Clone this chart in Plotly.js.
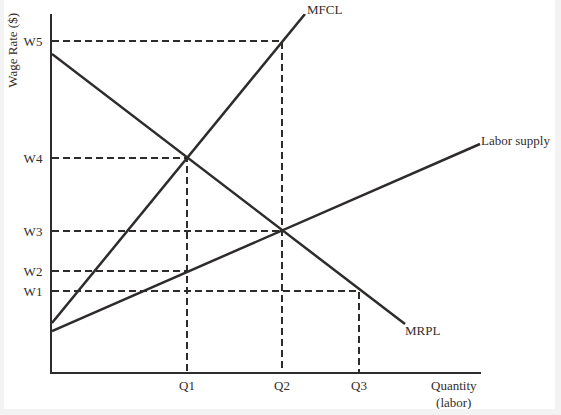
<!DOCTYPE html>
<html>
<head>
<meta charset="utf-8">
<script src="https://cdn.plot.ly/plotly-3.0.1.min.js"></script>
<style>
html,body{margin:0;padding:0;background:#f3f3f3;width:561px;height:415px;overflow:hidden;}
#chart{position:absolute;left:4px;top:0;width:551px;height:409px;background:#fff;}
</style>
</head>
<body>
<div id="chart"></div>
<script>
// Quantities and wage levels (arbitrary units)
const qLabels = ["Q1", "Q2", "Q3"];
const qValues = [13.5, 23.0, 30.7];
const wLabels = ["W1", "W2", "W3", "W4", "W5"];
const wValues = [8.1, 10.1, 14.1, 21.4, 33.1];

// Curves (endpoints)
const mrplX = [0, 35.3];
const mrplY = [31.8, 4.8];
const mfclX = [0, 25.3];
const mfclY = [4.9, 35.8];
const supplyX = [0, 42.8];
const supplyY = [4.1, 22.8];

const [Q1, Q2, Q3] = qValues;
const [W1, W2, W3, W4, W5] = wValues;

const ink = "#2e2b2b";
const font = {family: "Liberation Serif, Times New Roman, serif", size: 13, color: "#332d2d"};

const dashStyle = {color: ink, width: 2, dash: "7px,4px"};
const solid = {color: ink, width: 2.5};

const traces = [
  {x: [0, Q2, Q2], y: [W5, W5, 0], mode: "lines", line: dashStyle},
  {x: [0, Q1, Q1], y: [W4, W4, 0], mode: "lines", line: dashStyle},
  {x: [0, Q2], y: [W3, W3], mode: "lines", line: dashStyle},
  {x: [0, Q1], y: [W2, W2], mode: "lines", line: dashStyle},
  {x: [0, Q3, Q3], y: [W1, W1, 0], mode: "lines", line: dashStyle},
  {x: mrplX, y: mrplY, mode: "lines", line: solid},
  {x: mfclX, y: mfclY, mode: "lines", line: solid},
  {x: supplyX, y: supplyY, mode: "lines", line: solid}
].map(t => Object.assign({hoverinfo: "skip", showlegend: false, cliponaxis: false}, t));

const layout = {
  width: 551, height: 409,
  margin: {l: 48, r: 74, t: 14, b: 37},
  paper_bgcolor: "#fff", plot_bgcolor: "#fff",
  font: font,
  showlegend: false,
  xaxis: {
    range: [0, 42.9], showgrid: false, zeroline: false,
    showline: true, linecolor: ink, linewidth: 2,
    tickvals: qValues, ticktext: qLabels, ticks: "", tickfont: font,
    fixedrange: true
  },
  yaxis: {
    range: [0, 35.8], showgrid: false, zeroline: false,
    showline: true, linecolor: ink, linewidth: 2,
    tickvals: wValues, ticktext: wLabels, ticks: "", tickfont: font,
    ticklabelstandoff: 5,
    fixedrange: true
  },
  annotations: [
    {x: mfclX[1], y: mfclY[1], text: "MFCL", showarrow: false, xanchor: "left", yanchor: "middle", xshift: 0, yshift: 5, font: font},
    {x: supplyX[1], y: supplyY[1], text: "Labor supply", showarrow: false, xanchor: "left", yanchor: "middle", xshift: -1, yshift: 4, font: font},
    {x: mrplX[1], y: mrplY[1], text: "MRPL", showarrow: false, xanchor: "left", yanchor: "middle", xshift: -2, yshift: -6, font: font},
    {xref: "paper", yref: "paper", x: -0.091, y: 0.9, text: "Wage Rate ($)", textangle: -90, showarrow: false, xanchor: "center", yanchor: "middle", font: font},
    {xref: "paper", yref: "paper", x: 0.937, y: 0, text: "Quantity<br>(labor)", showarrow: false, xanchor: "center", yanchor: "top", yshift: -4, font: font}
  ]
};

Plotly.newPlot("chart", traces, layout, {displayModeBar: false, staticPlot: true});
</script>
</body>
</html>
